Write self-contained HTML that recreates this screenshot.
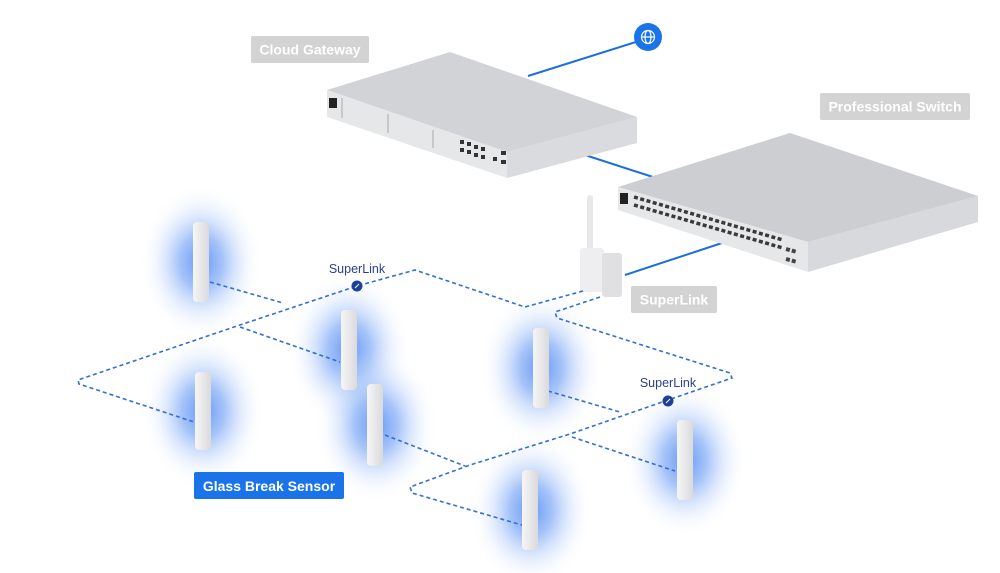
<!DOCTYPE html>
<html><head><meta charset="utf-8"><style>
html,body{margin:0;padding:0;background:#fff;}
svg{display:block;font-family:"Liberation Sans",sans-serif;}
</style></head><body>
<svg width="1000" height="573" viewBox="0 0 1000 573" xmlns="http://www.w3.org/2000/svg">
<defs>
<radialGradient id="g" cx="50%" cy="50%" r="50%">
<stop offset="0" stop-color="#3d7cf2" stop-opacity="0.8"/>
<stop offset="0.35" stop-color="#5d93f4" stop-opacity="0.55"/>
<stop offset="0.7" stop-color="#a9c6f8" stop-opacity="0.2"/>
<stop offset="1" stop-color="#ffffff" stop-opacity="0"/>
</radialGradient>
<linearGradient id="pole" x1="0" x2="1">
<stop offset="0" stop-color="#f6f6f6"/><stop offset="0.5" stop-color="#e8e8ea"/><stop offset="1" stop-color="#dadadc"/>
</linearGradient>
</defs>
<rect width="1000" height="573" fill="#fff"/>

<g>
<ellipse cx="201" cy="262" rx="62" ry="78" fill="url(#g)"/>
<ellipse cx="203" cy="411" rx="62" ry="78" fill="url(#g)"/>
<ellipse cx="349" cy="350" rx="62" ry="78" fill="url(#g)"/>
<ellipse cx="376" cy="425" rx="62" ry="78" fill="url(#g)"/>
<ellipse cx="541" cy="368" rx="62" ry="78" fill="url(#g)"/>
<ellipse cx="685" cy="460" rx="62" ry="78" fill="url(#g)"/>
<ellipse cx="531" cy="510" rx="62" ry="78" fill="url(#g)"/>
</g>

<g stroke="#1a6fe0" stroke-width="2" fill="none">
<line x1="528" y1="76" x2="636" y2="42"/>
<line x1="585" y1="155" x2="656" y2="178"/>
<line x1="625" y1="275" x2="722" y2="243"/>
</g>
<circle cx="648" cy="37" r="14" fill="#1a73e8"/>
<g stroke="#fff" stroke-width="1.2" fill="none">
<circle cx="648" cy="37" r="6.5"/><ellipse cx="648" cy="37" rx="3" ry="6.5"/><line x1="641.5" y1="37" x2="654.5" y2="37"/>
</g>

<g>
<polygon points="327,90 450,52 637,117 507,152" fill="#d2d3d6"/>
<polygon points="327,90 507,152 507,178 327,117" fill="#e6e7e9"/>
<polygon points="507,152 637,117 637,143 507,178" fill="#dadbde"/>
<rect x="329" y="98" width="8" height="10" fill="#222"/>
<line x1="342" y1="98" x2="342" y2="118" stroke="#aaa"/>
<line x1="388" y1="114" x2="388" y2="133" stroke="#aaa"/>
<line x1="433" y1="130" x2="433" y2="148" stroke="#aaa"/>
<g fill="#333">
<rect x="460" y="140" width="4" height="4"/><rect x="467" y="142" width="4" height="4"/><rect x="474" y="145" width="4" height="4"/><rect x="481" y="147" width="4" height="4"/>
<rect x="460" y="148" width="4" height="4"/><rect x="467" y="150" width="4" height="4"/><rect x="474" y="153" width="4" height="4"/><rect x="481" y="155" width="4" height="4"/>
<rect x="493" y="157" width="4" height="4"/><rect x="501" y="151" width="5" height="4"/><rect x="501" y="160" width="5" height="4"/>
</g>
</g>

<g>
<polygon points="618,187 790,133 978,196 808,242" fill="#cdced2"/>
<polygon points="618,187 808,242 808,272 618,210" fill="#e6e7e9"/>
<polygon points="808,242 978,196 978,222 808,272" fill="#d8d9dc"/>
<rect x="620" y="193" width="8" height="11" fill="#222"/>
<g stroke="#3a3a3a" stroke-width="3.5" stroke-dasharray="4,2.5">
<line x1="634" y1="197" x2="783" y2="240"/>
<line x1="634" y1="205" x2="783" y2="248"/>
</g>
<g stroke="#444" stroke-width="4" stroke-dasharray="4,2">
<line x1="786" y1="249" x2="797" y2="252"/>
<line x1="786" y1="259" x2="797" y2="262"/>
</g>
</g>

<g>
<rect x="587" y="195" width="6" height="60" rx="3" fill="#e8e8ea"/>
<rect x="580" y="248" width="24" height="44" rx="3" fill="#eeeef0"/>
<rect x="602" y="253" width="20" height="44" rx="3" fill="#e0e0e3"/>
</g>

<g fill="none" stroke="#2f6fd6" stroke-width="1.6" stroke-dasharray="4,3">
<polyline points="583,291 525,307 415,270 357,286 240,325 78,380 79,384 194,422"/>
<polyline points="210,282 283,303"/>
<polyline points="240,327 340,362"/>
<polyline points="600,297 555,312 557,318 730,373 732,378 668,400 570,434 470,465 410,487 412,493 522,525"/>
<polyline points="548,391 620,412"/>
<polyline points="385,435 465,466"/>
<polyline points="572,437 675,471"/>
</g>
<circle cx="357" cy="286" r="5.5" fill="#1e3f9a"/>
<circle cx="668" cy="401" r="5.5" fill="#1e3f9a"/>
<line x1="355" y1="288" x2="359" y2="284" stroke="#fff" stroke-width="1"/>
<line x1="666" y1="403" x2="670" y2="399" stroke="#fff" stroke-width="1"/>

<g fill="url(#pole)">
<rect x="193" y="222" width="16" height="80" rx="4"/>
<rect x="195" y="372" width="16" height="78" rx="4"/>
<rect x="341" y="310" width="16" height="80" rx="4"/>
<rect x="367" y="384" width="16" height="82" rx="4"/>
<rect x="533" y="328" width="16" height="80" rx="4"/>
<rect x="677" y="420" width="16" height="80" rx="4"/>
<rect x="522" y="470" width="16" height="80" rx="4"/>
</g>

<rect x="251" y="36" width="118" height="27" rx="2" fill="#d3d3d3"/>
<text x="310" y="54.5" font-size="14" font-weight="bold" fill="#fff" text-anchor="middle">Cloud Gateway</text>
<rect x="820" y="93" width="150" height="27" rx="2" fill="#d3d3d3"/>
<text x="895" y="111.5" font-size="14" font-weight="bold" fill="#fff" text-anchor="middle">Professional Switch</text>
<rect x="631" y="286" width="86" height="27" rx="2" fill="#d3d3d3"/>
<text x="674" y="304.5" font-size="14" font-weight="bold" fill="#fff" text-anchor="middle">SuperLink</text>
<rect x="194" y="472" width="150" height="27" rx="2" fill="#1a73e8"/>
<text x="269" y="491" font-size="14" font-weight="bold" fill="#fff" text-anchor="middle">Glass Break Sensor</text>
<text x="357" y="273" font-size="12.5" fill="#2a4190" text-anchor="middle">SuperLink</text>
<text x="668" y="387" font-size="12.5" fill="#2a4190" text-anchor="middle">SuperLink</text>
</svg>
</body></html>
